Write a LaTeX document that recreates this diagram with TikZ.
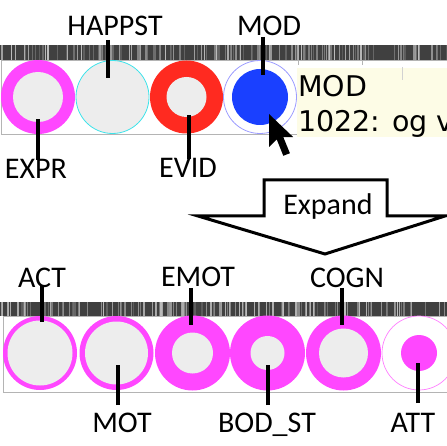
\documentclass[tikz,border=0pt]{standalone}
\usepackage{fontspec}
\setmainfont{Carlito}
\newfontfamily\djv{DejaVu Sans}
\definecolor{mag}{HTML}{FF47FF}
\definecolor{redc}{HTML}{FF2A20}
\definecolor{bluec}{HTML}{1A40FF}
\definecolor{grayc}{HTML}{EDEDED}
\definecolor{cyanc}{HTML}{3DE3EA}
\definecolor{lavc}{HTML}{9C9CFF}
\definecolor{tipc}{HTML}{FDFCE6}
\definecolor{barc}{HTML}{404040}
\definecolor{framec}{HTML}{B4B4B4}
\tikzset{
  disc/.style={circle,inner sep=0pt,minimum size=#1},
  lbl/.style={font=\fontsize{30}{30}\selectfont,inner sep=0pt,anchor=base},
  lead/.style={line width=3.4pt,black},
  tiptext/.style={font=\djv\fontsize{28.5}{28.5}\selectfont,inner sep=0pt,anchor=base west}
}
\begin{document}
\begin{tikzpicture}[x=1pt,y=-1pt]
\useasboundingbox (0,0) rectangle (447,446);
% ---------- top panel ----------
\fill[barc] (0,45) rectangle (447,60);
\pgfmathsetseed{4711}
\foreach \i in {1,...,150}{
  \pgfmathsetmacro{\sx}{rnd*447}
  \pgfmathsetmacro{\sw}{0.4+rnd*1.3}
  \pgfmathsetmacro{\sg}{25+rnd*40}
  \fill[black!\sg] (\sx,45) rectangle ({\sx+\sw},60);
}
\draw[framec,line width=0.8pt] (1,60) rectangle (447,134);
\draw[framec,line width=0.8pt] (298,60) -- (298,65) (362,60) -- (362,65);
% circles
\node[disc=74pt,fill=mag] (c1) at (38,97) {};
\node[disc=50pt,fill=grayc] (c1i) at (c1) {};
\node[disc=73pt,fill=grayc,draw=cyanc,line width=0.8pt] (c2) at (112.5,97) {};
\node[disc=73pt,fill=redc] (c3) at (186.5,97) {};
\node[disc=40pt,fill=grayc] (c3i) at (c3) {};
\node[disc=73pt,fill=white,draw=lavc,line width=0.8pt] (c4) at (260,97) {};
\node[disc=56pt,fill=bluec] (c4i) at (c4) {};
% tooltip
\fill[tipc] (297,68) rectangle (447,137);
\draw[framec!60,line width=0.6pt] (402,67) -- (402,80);
\node[tiptext] (tip1) at (298,97) {MOD};
\node[tiptext] (tip2) at (298,132) {1022: og v};
% cursor
\fill[black] (269,114) -- ++(0,33) -- ++(7.7,-7.7) -- ++(6.6,16.5) -- ++(6.6,-2.6) -- ++(-6.6,-16.1) -- ++(9.9,0) -- cycle;
% labels
\node[lbl] (lhap) at (115,36) {HAPPST};
\node[lbl] (lmod) at (269,36) {MOD};
\node[lbl] (lexpr) at (36,179) {EXPR};
\node[lbl] (levid) at (188,178) {EVID};
\coordinate (ehap) at (108,78);
\coordinate (emod) at (263,75);
\coordinate (eexpr) at (38,119);
\coordinate (eevid) at (189,115);
\draw[lead] (ehap |- 0,40) -- (ehap);
\draw[lead] (emod |- 0,37) -- (emod);
\draw[lead] (eexpr |- 0,160) -- (eexpr);
\draw[lead] (eevid |- 0,159) -- (eevid);
% ---------- expand arrow ----------
\draw[line width=3pt,line join=miter,fill=white] (264,180) -- (387,180) -- (387,216) -- (445,216) -- (325,254) -- (198,216) -- (264,216) -- cycle;
\node[lbl] (lexp) at (328,215) {Expand};
% ---------- bottom panel ----------
\fill[barc] (0,302) rectangle (447,316);
\pgfmathsetseed{2024}
\foreach \i in {1,...,150}{
  \pgfmathsetmacro{\sx}{rnd*447}
  \pgfmathsetmacro{\sw}{0.4+rnd*1.3}
  \pgfmathsetmacro{\sg}{25+rnd*40}
  \fill[black!\sg] (\sx,302) rectangle ({\sx+\sw},316);
}
\draw[framec,line width=0.8pt] (3,316) rectangle (447,392);
\node[disc=74pt,fill=mag] (b1) at (40,353) {};
\node[disc=65pt,fill=grayc] (b1i) at (b1) {};
\node[disc=74pt,fill=mag] (b2) at (116.5,353) {};
\node[disc=63pt,fill=grayc] (b2i) at (b2) {};
\node[disc=75pt,fill=mag] (b3) at (192.5,353) {};
\node[disc=41pt,fill=grayc] (b3i) at (b3) {};
\node[disc=75pt,fill=mag] (b4) at (267.5,353) {};
\node[disc=34pt,fill=grayc] (b4i) at (b4) {};
\node[disc=75pt,fill=mag] (b5) at (343.5,353) {};
\node[disc=49pt,fill=grayc] (b5i) at (b5) {};
\node[disc=74pt,fill=white,draw=mag!70,line width=0.7pt] (b6) at (419,353) {};
\node[disc=36pt,fill=mag] (b6i) at (b6) {};
% labels
\node[lbl] (lact) at (42,288) {ACT};
\node[lbl] (lemot) at (198,287) {EMOT};
\node[lbl] (lcogn) at (347,288) {COGN};
\node[lbl] (lmot) at (122,432) {MOT};
\node[lbl] (lbod) at (267,432) {BOD\_ST};
\node[lbl] (latt) at (413,432) {ATT};
\coordinate (eact) at (42,322);
\coordinate (eemot) at (191,325);
\coordinate (ecogn) at (342,325);
\coordinate (emot) at (118,365);
\coordinate (ebod) at (268,365);
\coordinate (eatt) at (418,363);
\draw[lead] (eact |- 0,286) -- (eact);
\draw[lead] (eemot |- 0,288) -- (eemot);
\draw[lead] (ecogn |- 0,288) -- (ecogn);
\draw[lead] (emot |- 0,405) -- (emot);
\draw[lead] (ebod |- 0,405) -- (ebod);
\draw[lead] (eatt |- 0,403) -- (eatt);
\end{tikzpicture}
\end{document}
